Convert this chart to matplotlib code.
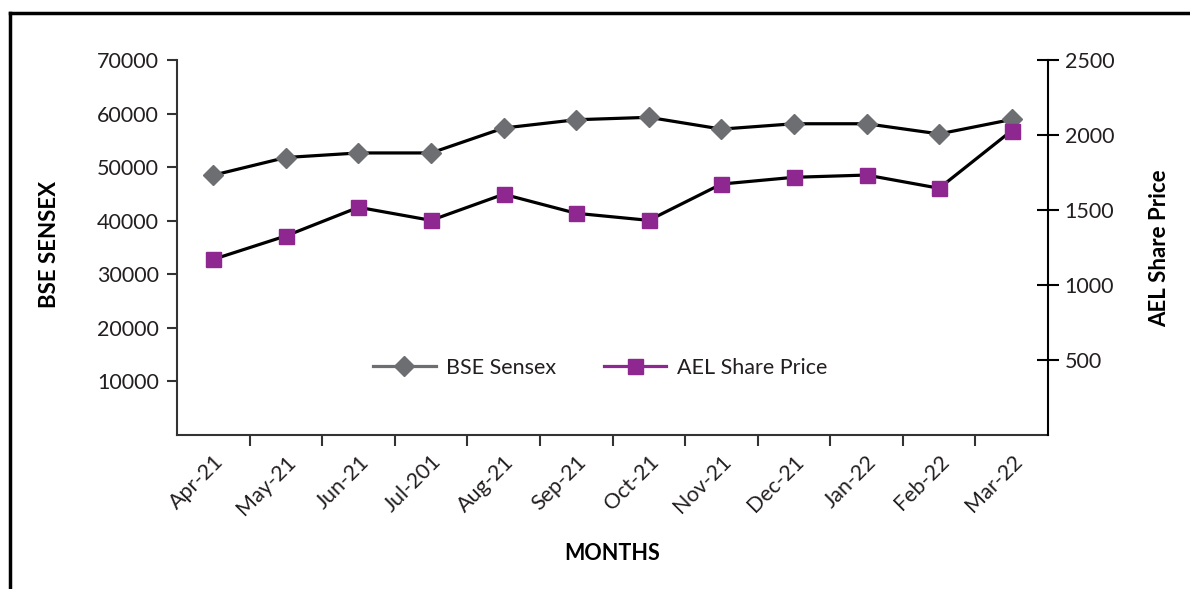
import matplotlib.pyplot as plt
from matplotlib.lines import Line2D

plt.rcParams['font.family'] = ['Lato', 'DejaVu Sans']

# data
months = ["Apr-21", "May-21", "Jun-21", "Jul-201", "Aug-21", "Sep-21",
          "Oct-21", "Nov-21", "Dec-21", "Jan-22", "Feb-22", "Mar-22"]
bse_sensex = [48500, 51800, 52650, 52650, 57300, 58850,
              59300, 57100, 58100, 58100, 56200, 58900]
ael_price = [1171, 1327, 1518, 1431, 1605, 1478,
             1431, 1673, 1718, 1733, 1645, 2029]
left_ticks = [10000, 20000, 30000, 40000, 50000, 60000, 70000]
right_ticks = [500, 1000, 1500, 2000, 2500]

grey = "#6d6e71"
purple = "#8e278f"
txt = "#231f20"
fs = 15.5

fig = plt.figure(figsize=(11.9, 5.89), dpi=100)
ax = fig.add_axes([177 / 1190, 1 - 435 / 589, 871 / 1190, 375 / 589])
ax2 = ax.twinx()

x = list(range(len(months)))
ax.plot(x, bse_sensex, color="black", lw=2.3, marker="D", ms=9.7,
        mfc=grey, mec=grey, zorder=3)
ax2.plot(x, ael_price, color="black", lw=2.3, marker="s", ms=10.8,
         mfc=purple, mec=purple, zorder=3)

ax.set_xlim(-0.5, len(months) - 0.5)
ax.set_ylim(0, 70000)
ax2.set_ylim(0, 2500)

# month labels at centres, tick marks between months
ax.set_xticks(x)
ax.set_xticklabels(months, rotation=45, ha="right", rotation_mode="anchor",
                   fontsize=fs, color=txt)
ax.tick_params(axis="x", which="major", length=0, pad=12)
ax.set_xticks([i + 0.5 for i in x[:-1]], minor=True)
ax.tick_params(axis="x", which="minor", length=8, width=1.5, color="#333333")

ax.set_yticks(left_ticks)
ax.set_yticklabels([str(t) for t in left_ticks], fontsize=fs, color=txt)
ax.tick_params(axis="y", length=7, width=1.5, color="#333333", pad=6)

ax2.set_yticks(right_ticks)
ax2.set_yticklabels([str(t) for t in right_ticks], fontsize=fs, color=txt)
ax2.tick_params(axis="y", direction="inout", length=16, width=1.5, pad=4)

for a in (ax, ax2):
    a.spines["top"].set_visible(False)
    for s in ("left", "bottom", "right"):
        a.spines[s].set_linewidth(1.5)
ax.spines["left"].set_color("#333333")
ax.spines["bottom"].set_color("#333333")
ax.spines["right"].set_visible(False)
ax2.spines["left"].set_visible(False)
ax2.spines["bottom"].set_visible(False)
ax2.spines["right"].set_color("black")

fig.text(50 / 1190, 1 - 245 / 589, "BSE SENSEX", rotation=90, ha="center",
         va="center", fontsize=16, fontweight="bold", color="black")
fig.text(1160 / 1190, 1 - 248 / 589, "AEL Share Price", rotation=90, ha="center",
         va="center", fontsize=16, fontweight="bold", color="black")
fig.text(612 / 1190, 1 - 553 / 589, "MONTHS", ha="center", va="center",
         fontsize=15.5, fontweight="bold", color="black")

handles = [
    Line2D([], [], color=grey, lw=2.3, marker="D", ms=9.7, mfc=grey, mec=grey),
    Line2D([], [], color=purple, lw=2.3, marker="s", ms=10.8, mfc=purple, mec=purple),
]
leg = ax2.legend(handles, ["BSE Sensex", "AEL Share Price"], loc="center",
                 bbox_to_anchor=(0.486, 0.179), ncol=2, frameon=False,
                 prop={"size": fs}, handlelength=2.9,
                 columnspacing=2.2, handletextpad=0.5)
for t in leg.get_texts():
    t.set_color(txt)

# outer frame: left and top edges only
fig.add_artist(Line2D([10 / 1190, 10 / 1190], [0, 1 - 13 / 589], color="black",
                      lw=2.5, transform=fig.transFigure))
fig.add_artist(Line2D([10 / 1190, 1], [1 - 13 / 589, 1 - 13 / 589], color="black",
                      lw=2.5, transform=fig.transFigure))

fig.savefig("out.png", dpi=100)
